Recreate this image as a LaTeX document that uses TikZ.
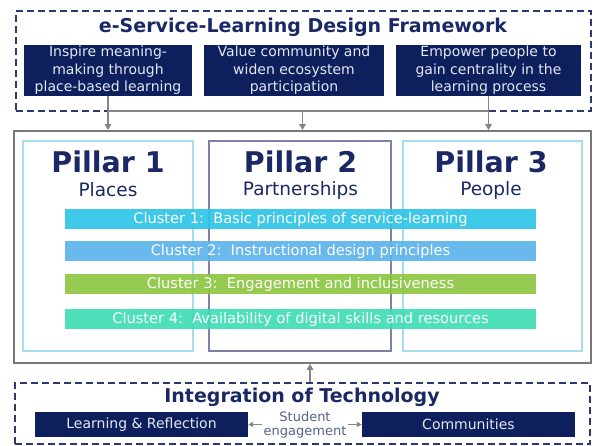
\documentclass[tikz,border=0pt]{standalone}
\usepackage{fontspec}
\setmainfont{DejaVu Sans}
\usetikzlibrary{positioning,arrows.meta,calc}
\definecolor{navy}{HTML}{0D1F5C}
\definecolor{navytext}{HTML}{1A2865}
\definecolor{dashnavy}{HTML}{2B3A6E}
\definecolor{boxtext}{HTML}{E4E8F2}
\definecolor{arrowgray}{HTML}{858585}
\definecolor{clusterA}{HTML}{2EC4E6}
\definecolor{clusterB}{HTML}{5CB3EC}
\definecolor{clusterC}{HTML}{8DC641}
\definecolor{clusterD}{HTML}{3EDDB5}
\definecolor{pillarlight}{HTML}{A5DCF2}
\definecolor{pillarmid}{HTML}{7B82A6}

\begin{document}
\begin{tikzpicture}[x=1pt,y=-1pt,
    dashframe/.style={draw=dashnavy,line width=1.8pt,dash pattern=on 7pt off 4pt,inner sep=0pt},
    goalbox/.style={fill=navy,text=boxtext,align=center,inner sep=0pt,font=\fontsize{14}{17.5}\selectfont},
    pillarbox/.style={draw,line width=1.3pt,inner sep=0pt,minimum width=#1,minimum height=210},
    pillartitle/.style={text=navytext,font=\fontsize{28.5}{30}\bfseries\selectfont},
    pillarsub/.style={text=navytext,font=\fontsize{18.5}{20}\selectfont},
    clusterbar/.style={fill=#1,fill opacity=0.92,text opacity=1,text=white,minimum width=471,minimum height=20,inner sep=0pt,font=\fontsize{14.6}{16}\selectfont},
    grayarrow/.style={draw=arrowgray,line width=1.6pt,-{Triangle[length=6pt,width=6.5pt]}}]
    \useasboundingbox (0,0) rectangle (598,446);

    % Design framework on top
    \node[dashframe,minimum width=575,minimum height=100] (frame) at (303.5,61) {};
    \node[text=navytext,font=\fontsize{19}{21}\bfseries\selectfont] (frametitle) at (303,27) {e-Service-Learning Design Framework};
    \node[goalbox,minimum width=168,minimum height=51] (goal1) at (108,70.5) {Inspire meaning-\\making through\\place-based learning};
    \node[goalbox,minimum width=180,minimum height=51] (goal2) at (294,70.5) {Value community and\\widen ecosystem\\participation};
    \node[goalbox,minimum width=185,minimum height=51] (goal3) at (488.5,70.5) {Empower people to\\gain centrality in the\\learning process};

    % Pillars and clusters
    \node[draw=arrowgray!90!black,line width=1.8pt,minimum width=577,minimum height=232,inner sep=0pt] (main) at (302.5,247) {};
    \node[pillarbox=170,draw=pillarlight] (pillar1) at (108,246) {};
    \node[pillarbox=182,draw=pillarmid] (pillar2) at (300,246) {};
    \node[pillarbox=179,draw=pillarlight] (pillar3) at (492.5,246) {};
    \node[pillartitle] (ptitle1) at (108,162) {Pillar 1};
    \node[pillartitle] (ptitle2) at (300.5,162) {Pillar 2};
    \node[pillartitle] (ptitle3) at (491,162) {Pillar 3};
    \node[pillarsub] (psub1) at (108,190) {Places};
    \node[pillarsub] (psub2) at (300.5,190) {Partnerships};
    \node[pillarsub] (psub3) at (491,190) {People};
    \node[clusterbar=clusterA] (cluster1) at (300.5,219) {Cluster 1:\ \ Basic principles of service-learning};
    \node[clusterbar=clusterB] (cluster2) at (300.5,251.5) {Cluster 2:\ \ Instructional design principles};
    \node[clusterbar=clusterC] (cluster3) at (300.5,284) {Cluster 3:\ \ Engagement and inclusiveness};
    \node[clusterbar=clusterD] (cluster4) at (300.5,319) {Cluster 4:\ \ Availability of digital skills and resources};

    % Arrows from the framework to the pillars
    \coordinate (hub) at (main.north |- 0,111);
    \draw[draw=arrowgray,line width=1.6pt] (goal1.south |- hub) -- (goal3.south |- hub);
    \draw[grayarrow] (goal1.south) -- (goal1.south |- main.north);
    \draw[grayarrow] (goal3.south) -- (goal3.south |- main.north);
    \draw[grayarrow] (hub) -- (main.north);

    % Integration of technology
    \node[dashframe,minimum width=575,minimum height=61] (tech) at (302.5,413.5) {};
    \node[text=navytext,font=\fontsize{19}{21}\bfseries\selectfont] (techtitle) at (302,397) {Integration of Technology};
    \node[goalbox,minimum width=213,minimum height=25] (learning) at (141.5,424.5) {Learning \& Reflection};
    \node[goalbox,minimum width=213,minimum height=25] (communities) at (468.5,424.5) {Communities};
    \node[text=dashnavy!80,align=center,inner sep=1pt,font=\fontsize{13}{13.5}\selectfont] (student) at (305,425) {Student\\engagement};
    \draw[draw=arrowgray,line width=1.2pt,-{Triangle[length=5pt,width=5pt]}] (student.west |- learning.east) -- (learning.east);
    \draw[draw=arrowgray,line width=1.2pt,-{Triangle[length=5pt,width=5pt]}] (student.east |- communities.west) -- (communities.west);
    \draw[grayarrow] ([xshift=7.5pt]tech.north) -- ([xshift=7.5pt]main.south);
\end{tikzpicture}
\end{document}
